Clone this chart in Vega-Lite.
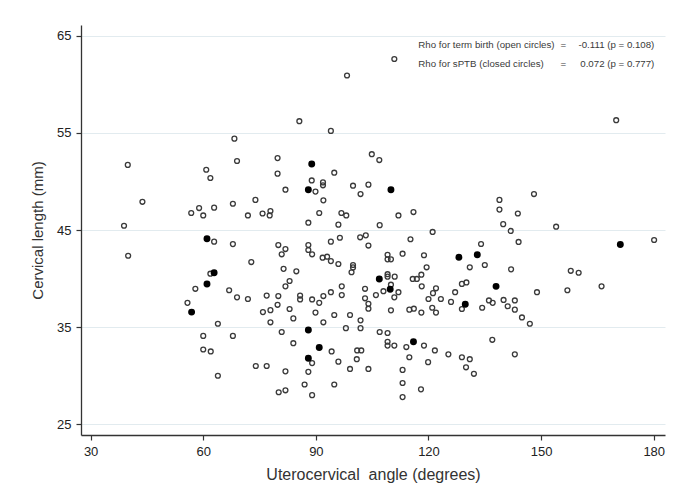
{
  "$schema": "https://vega.github.io/schema/vega-lite/v6.json",
  "width": 584,
  "height": 410,
  "autosize": "none",
  "padding": {"left": 81, "top": 25, "right": 18, "bottom": 52},
  "background": "white",
  "config": {
    "view": {"stroke": null},
    "font": "Liberation Sans",
    "axis": {
      "domainColor": "#333333",
      "domainWidth": 1.3,
      "tickColor": "#333333",
      "tickWidth": 1.2,
      "tickSize": 5,
      "labelColor": "#222222",
      "labelFont": "Liberation Sans",
      "labelFontSize": 13,
      "titleFont": "Liberation Sans",
      "titleFontWeight": "normal",
      "titleColor": "#333333",
      "gridColor": "#e2ebef",
      "gridWidth": 1
    }
  },
  "datasets": {
    "pts": [
      {"a": 68.3, "cl": 54.4, "g": "term"}, {"a": 39.9, "cl": 51.7, "g": "term"}, {"a": 69.0, "cl": 52.1, "g": "term"},
      {"a": 79.8, "cl": 52.4, "g": "term"}, {"a": 60.8, "cl": 51.2, "g": "term"}, {"a": 61.9, "cl": 50.35, "g": "term"},
      {"a": 79.8, "cl": 50.8, "g": "term"}, {"a": 43.8, "cl": 47.9, "g": "term"}, {"a": 56.8, "cl": 46.75, "g": "term"},
      {"a": 58.9, "cl": 47.26, "g": "term"}, {"a": 60.0, "cl": 46.5, "g": "term"}, {"a": 62.9, "cl": 47.3, "g": "term"},
      {"a": 67.9, "cl": 47.7, "g": "term"}, {"a": 73.9, "cl": 48.1, "g": "term"}, {"a": 71.9, "cl": 46.5, "g": "term"},
      {"a": 75.8, "cl": 46.7, "g": "term"}, {"a": 77.9, "cl": 46.95, "g": "term"}, {"a": 77.7, "cl": 46.5, "g": "term"},
      {"a": 38.9, "cl": 45.44, "g": "term"},
      {"a": 110.9, "cl": 62.6, "g": "term"}, {"a": 98.3, "cl": 60.9, "g": "term"}, {"a": 85.6, "cl": 56.2, "g": "term"},
      {"a": 94.0, "cl": 55.2, "g": "term"}, {"a": 104.9, "cl": 52.8, "g": "term"}, {"a": 106.9, "cl": 52.2, "g": "term"},
      {"a": 94.9, "cl": 50.9, "g": "term"}, {"a": 88.9, "cl": 50.1, "g": "term"}, {"a": 91.9, "cl": 49.9, "g": "term"},
      {"a": 91.9, "cl": 49.6, "g": "term"}, {"a": 89.9, "cl": 48.95, "g": "term"}, {"a": 81.9, "cl": 49.15, "g": "term"},
      {"a": 99.9, "cl": 49.56, "g": "term"}, {"a": 104.0, "cl": 49.67, "g": "term"}, {"a": 101.9, "cl": 48.7, "g": "term"},
      {"a": 92.0, "cl": 48.05, "g": "term"}, {"a": 90.9, "cl": 46.75, "g": "term"}, {"a": 96.8, "cl": 46.75, "g": "term"},
      {"a": 98.1, "cl": 46.5, "g": "term"}, {"a": 88.0, "cl": 45.75, "g": "term"}, {"a": 96.0, "cl": 45.55, "g": "term"},
      {"a": 107.0, "cl": 45.5, "g": "term"}, {"a": 112.0, "cl": 46.5, "g": "term"}, {"a": 116.0, "cl": 46.85, "g": "term"},
      {"a": 170.0, "cl": 56.3, "g": "term"}, {"a": 148.1, "cl": 48.7, "g": "term"}, {"a": 138.9, "cl": 48.1, "g": "term"},
      {"a": 138.9, "cl": 47.1, "g": "term"}, {"a": 143.8, "cl": 46.7, "g": "term"}, {"a": 139.9, "cl": 45.6, "g": "term"},
      {"a": 154.0, "cl": 45.34, "g": "term"},
      {"a": 141.9, "cl": 44.9, "g": "term"}, {"a": 180.1, "cl": 43.97, "g": "term"}, {"a": 134.0, "cl": 43.56, "g": "term"},
      {"a": 144.0, "cl": 43.77, "g": "term"}, {"a": 131.0, "cl": 41.16, "g": "term"}, {"a": 135.0, "cl": 41.4, "g": "term"},
      {"a": 142.0, "cl": 40.95, "g": "term"}, {"a": 157.9, "cl": 40.8, "g": "term"}, {"a": 160.0, "cl": 40.6, "g": "term"},
      {"a": 148.9, "cl": 38.6, "g": "term"}, {"a": 157.0, "cl": 38.8, "g": "term"}, {"a": 166.1, "cl": 39.2, "g": "term"},
      {"a": 134.3, "cl": 37.0, "g": "term"}, {"a": 136.1, "cl": 37.75, "g": "term"}, {"a": 137.1, "cl": 37.5, "g": "term"},
      {"a": 140.0, "cl": 37.8, "g": "term"}, {"a": 141.1, "cl": 37.15, "g": "term"}, {"a": 143.0, "cl": 37.75, "g": "term"},
      {"a": 143.0, "cl": 36.8, "g": "term"}, {"a": 144.9, "cl": 36.0, "g": "term"}, {"a": 147.0, "cl": 35.35, "g": "term"},
      {"a": 137.0, "cl": 33.7, "g": "term"}, {"a": 143.0, "cl": 32.2, "g": "term"}, {"a": 128.9, "cl": 31.9, "g": "term"},
      {"a": 131.0, "cl": 31.7, "g": "term"}, {"a": 130.0, "cl": 30.87, "g": "term"}, {"a": 132.1, "cl": 30.2, "g": "term"},
      {"a": 121.1, "cl": 44.8, "g": "term"}, {"a": 80.0, "cl": 43.45, "g": "term"}, {"a": 81.9, "cl": 43.04, "g": "term"},
      {"a": 80.9, "cl": 42.5, "g": "term"}, {"a": 88.0, "cl": 43.45, "g": "term"}, {"a": 88.0, "cl": 42.94, "g": "term"},
      {"a": 89.0, "cl": 42.5, "g": "term"}, {"a": 94.0, "cl": 43.8, "g": "term"}, {"a": 96.4, "cl": 44.2, "g": "term"},
      {"a": 101.8, "cl": 44.25, "g": "term"}, {"a": 103.3, "cl": 44.45, "g": "term"}, {"a": 104.0, "cl": 43.4, "g": "term"},
      {"a": 115.2, "cl": 44.05, "g": "term"}, {"a": 91.8, "cl": 42.15, "g": "term"}, {"a": 93.0, "cl": 42.25, "g": "term"},
      {"a": 94.0, "cl": 41.8, "g": "term"}, {"a": 96.0, "cl": 41.5, "g": "term"}, {"a": 99.9, "cl": 41.4, "g": "term"},
      {"a": 99.9, "cl": 41.15, "g": "term"}, {"a": 99.5, "cl": 40.65, "g": "term"}, {"a": 81.4, "cl": 41.0, "g": "term"},
      {"a": 84.8, "cl": 40.75, "g": "term"}, {"a": 109.1, "cl": 42.45, "g": "term"}, {"a": 109.1, "cl": 41.98, "g": "term"},
      {"a": 110.0, "cl": 41.98, "g": "term"}, {"a": 113.1, "cl": 42.56, "g": "term"}, {"a": 118.8, "cl": 42.4, "g": "term"},
      {"a": 119.5, "cl": 41.16, "g": "term"}, {"a": 109.1, "cl": 40.45, "g": "term"}, {"a": 109.1, "cl": 40.2, "g": "term"},
      {"a": 111.0, "cl": 40.2, "g": "term"}, {"a": 110.0, "cl": 39.37, "g": "term"}, {"a": 108.0, "cl": 38.7, "g": "term"},
      {"a": 112.0, "cl": 38.6, "g": "term"}, {"a": 110.9, "cl": 38.07, "g": "term"}, {"a": 115.8, "cl": 39.96, "g": "term"},
      {"a": 116.9, "cl": 39.96, "g": "term"}, {"a": 118.1, "cl": 40.4, "g": "term"}, {"a": 118.2, "cl": 39.2, "g": "term"},
      {"a": 122.0, "cl": 39.0, "g": "term"}, {"a": 121.2, "cl": 38.5, "g": "term"}, {"a": 120.0, "cl": 37.9, "g": "term"},
      {"a": 123.3, "cl": 37.9, "g": "term"}, {"a": 127.1, "cl": 38.6, "g": "term"}, {"a": 126.0, "cl": 37.6, "g": "term"},
      {"a": 128.9, "cl": 39.45, "g": "term"}, {"a": 130.1, "cl": 39.6, "g": "term"}, {"a": 128.9, "cl": 36.87, "g": "term"},
      {"a": 114.9, "cl": 36.8, "g": "term"}, {"a": 116.1, "cl": 36.9, "g": "term"}, {"a": 118.1, "cl": 36.5, "g": "term"},
      {"a": 121.0, "cl": 37.0, "g": "term"}, {"a": 122.0, "cl": 36.5, "g": "term"}, {"a": 110.0, "cl": 36.73, "g": "term"},
      {"a": 80.0, "cl": 38.2, "g": "term"}, {"a": 79.8, "cl": 37.3, "g": "term"}, {"a": 83.0, "cl": 39.75, "g": "term"},
      {"a": 81.9, "cl": 39.2, "g": "term"}, {"a": 85.8, "cl": 38.25, "g": "term"}, {"a": 85.8, "cl": 37.85, "g": "term"},
      {"a": 89.0, "cl": 37.85, "g": "term"}, {"a": 90.9, "cl": 37.5, "g": "term"}, {"a": 92.0, "cl": 38.2, "g": "term"},
      {"a": 94.0, "cl": 38.6, "g": "term"}, {"a": 96.9, "cl": 39.2, "g": "term"}, {"a": 96.9, "cl": 38.3, "g": "term"},
      {"a": 103.1, "cl": 38.95, "g": "term"}, {"a": 103.1, "cl": 37.97, "g": "term"}, {"a": 104.0, "cl": 37.4, "g": "term"},
      {"a": 104.0, "cl": 36.9, "g": "term"}, {"a": 106.0, "cl": 38.3, "g": "term"}, {"a": 83.0, "cl": 36.87, "g": "term"},
      {"a": 84.0, "cl": 35.9, "g": "term"}, {"a": 89.9, "cl": 36.5, "g": "term"}, {"a": 94.9, "cl": 36.25, "g": "term"},
      {"a": 99.1, "cl": 36.25, "g": "term"}, {"a": 92.0, "cl": 35.5, "g": "term"}, {"a": 101.9, "cl": 35.7, "g": "term"},
      {"a": 101.9, "cl": 34.9, "g": "term"}, {"a": 98.0, "cl": 34.9, "g": "term"}, {"a": 107.0, "cl": 34.5, "g": "term"},
      {"a": 109.1, "cl": 34.4, "g": "term"}, {"a": 80.9, "cl": 34.5, "g": "term"}, {"a": 84.0, "cl": 33.35, "g": "term"},
      {"a": 89.0, "cl": 31.3, "g": "term"}, {"a": 94.2, "cl": 32.5, "g": "term"}, {"a": 96.0, "cl": 31.45, "g": "term"},
      {"a": 101.0, "cl": 32.6, "g": "term"}, {"a": 102.1, "cl": 32.6, "g": "term"}, {"a": 100.9, "cl": 31.7, "g": "term"},
      {"a": 99.1, "cl": 30.7, "g": "term"}, {"a": 104.0, "cl": 30.7, "g": "term"}, {"a": 109.1, "cl": 33.5, "g": "term"},
      {"a": 109.1, "cl": 33.1, "g": "term"}, {"a": 110.9, "cl": 33.1, "g": "term"}, {"a": 114.1, "cl": 32.95, "g": "term"},
      {"a": 118.8, "cl": 33.1, "g": "term"}, {"a": 121.7, "cl": 32.6, "g": "term"}, {"a": 125.3, "cl": 32.2, "g": "term"},
      {"a": 114.9, "cl": 31.9, "g": "term"}, {"a": 119.9, "cl": 31.4, "g": "term"}, {"a": 113.1, "cl": 30.6, "g": "term"},
      {"a": 113.1, "cl": 29.25, "g": "term"}, {"a": 113.1, "cl": 27.8, "g": "term"}, {"a": 118.0, "cl": 28.6, "g": "term"},
      {"a": 81.9, "cl": 30.45, "g": "term"}, {"a": 88.0, "cl": 30.4, "g": "term"}, {"a": 87.0, "cl": 29.1, "g": "term"},
      {"a": 94.9, "cl": 29.1, "g": "term"}, {"a": 80.1, "cl": 28.3, "g": "term"}, {"a": 81.9, "cl": 28.5, "g": "term"},
      {"a": 89.0, "cl": 28.0, "g": "term"},
      {"a": 40.0, "cl": 42.35, "g": "term"}, {"a": 62.9, "cl": 43.8, "g": "term"}, {"a": 67.9, "cl": 43.55, "g": "term"},
      {"a": 72.8, "cl": 41.7, "g": "term"}, {"a": 61.9, "cl": 40.5, "g": "term"}, {"a": 57.9, "cl": 38.95, "g": "term"},
      {"a": 66.9, "cl": 38.8, "g": "term"}, {"a": 69.0, "cl": 38.07, "g": "term"}, {"a": 71.9, "cl": 37.9, "g": "term"},
      {"a": 76.9, "cl": 38.25, "g": "term"}, {"a": 55.8, "cl": 37.5, "g": "term"}, {"a": 75.9, "cl": 36.55, "g": "term"},
      {"a": 77.9, "cl": 36.75, "g": "term"}, {"a": 77.9, "cl": 35.5, "g": "term"}, {"a": 63.9, "cl": 35.35, "g": "term"},
      {"a": 60.0, "cl": 34.1, "g": "term"}, {"a": 67.9, "cl": 34.1, "g": "term"}, {"a": 60.0, "cl": 32.7, "g": "term"},
      {"a": 62.0, "cl": 32.5, "g": "term"}, {"a": 74.0, "cl": 31.0, "g": "term"}, {"a": 76.9, "cl": 31.0, "g": "term"},
      {"a": 63.9, "cl": 30.0, "g": "term"},
      {"a": 88.9, "cl": 51.8, "g": "sptb"}, {"a": 88.0, "cl": 49.15, "g": "sptb"}, {"a": 110.0, "cl": 49.15, "g": "sptb"},
      {"a": 171.1, "cl": 43.5, "g": "sptb"}, {"a": 133.0, "cl": 42.46, "g": "sptb"}, {"a": 128.1, "cl": 42.2, "g": "sptb"},
      {"a": 138.0, "cl": 39.2, "g": "sptb"}, {"a": 129.8, "cl": 37.35, "g": "sptb"}, {"a": 106.9, "cl": 39.96, "g": "sptb"},
      {"a": 109.8, "cl": 38.9, "g": "sptb"}, {"a": 88.0, "cl": 34.7, "g": "sptb"}, {"a": 90.9, "cl": 32.9, "g": "sptb"},
      {"a": 88.0, "cl": 31.8, "g": "sptb"}, {"a": 116.0, "cl": 33.5, "g": "sptb"}, {"a": 61.0, "cl": 44.1, "g": "sptb"},
      {"a": 62.9, "cl": 40.6, "g": "sptb"}, {"a": 61.0, "cl": 39.44, "g": "sptb"}, {"a": 56.9, "cl": 36.55, "g": "sptb"}
    ],
    "notes": [
      {"a": 117.3, "cl": 64.0, "label": "Rho for term birth (open circles)", "value": "-0.111 (p = 0.108)"},
      {"a": 117.3, "cl": 62.1, "label": "Rho for sPTB (closed circles)", "value": "0.072 (p = 0.777)"}
    ]
  },
  "layer": [
    {
      "data": {"name": "pts"},
      "transform": [{"filter": "datum.g == 'term'"}],
      "mark": {"type": "point", "shape": "circle", "filled": false, "size": 24, "strokeWidth": 1.3, "color": "#3a3a3a", "opacity": 1},
      "encoding": {
        "x": {
          "field": "a",
          "type": "quantitative",
          "scale": {"domain": [27.44, 183.0], "nice": false, "zero": false},
          "axis": {
            "title": "Uterocervical\u00a0 angle (degrees)",
            "values": [30, 60, 90, 120, 150, 180],
            "grid": false,
            "labelPadding": 5,
            "titleFontSize": 16,
            "titlePadding": 8
          }
        },
        "y": {
          "field": "cl",
          "type": "quantitative",
          "scale": {"domain": [23.9, 66.1], "nice": false, "zero": false},
          "axis": {
            "title": "Cervical length (mm)",
            "values": [25, 35, 45, 55, 65],
            "grid": true,
            "labelPadding": 5,
            "titleFontSize": 15,
            "titlePadding": 11
          }
        }
      }
    },
    {
      "data": {"name": "pts"},
      "transform": [{"filter": "datum.g == 'sptb'"}],
      "mark": {"type": "circle", "size": 48, "color": "#000000", "opacity": 1},
      "encoding": {
        "x": {"field": "a", "type": "quantitative"},
        "y": {"field": "cl", "type": "quantitative"}
      }
    },
    {
      "data": {"name": "notes"},
      "mark": {"type": "text", "align": "left", "baseline": "middle", "fontSize": 9.7, "color": "#3a3a3a", "font": "Liberation Sans"},
      "encoding": {
        "x": {"field": "a", "type": "quantitative"},
        "y": {"field": "cl", "type": "quantitative"},
        "text": {"field": "label"}
      }
    },
    {
      "data": {"name": "notes"},
      "mark": {"type": "text", "align": "center", "baseline": "middle", "fontSize": 9.7, "color": "#3a3a3a", "font": "Liberation Sans", "dx": 145},
      "encoding": {
        "x": {"field": "a", "type": "quantitative"},
        "y": {"field": "cl", "type": "quantitative"},
        "text": {"value": "="}
      }
    },
    {
      "data": {"name": "notes"},
      "mark": {"type": "text", "align": "right", "baseline": "middle", "fontSize": 9.7, "color": "#3a3a3a", "font": "Liberation Sans", "dx": 236},
      "encoding": {
        "x": {"field": "a", "type": "quantitative"},
        "y": {"field": "cl", "type": "quantitative"},
        "text": {"field": "value"}
      }
    }
  ]
}
